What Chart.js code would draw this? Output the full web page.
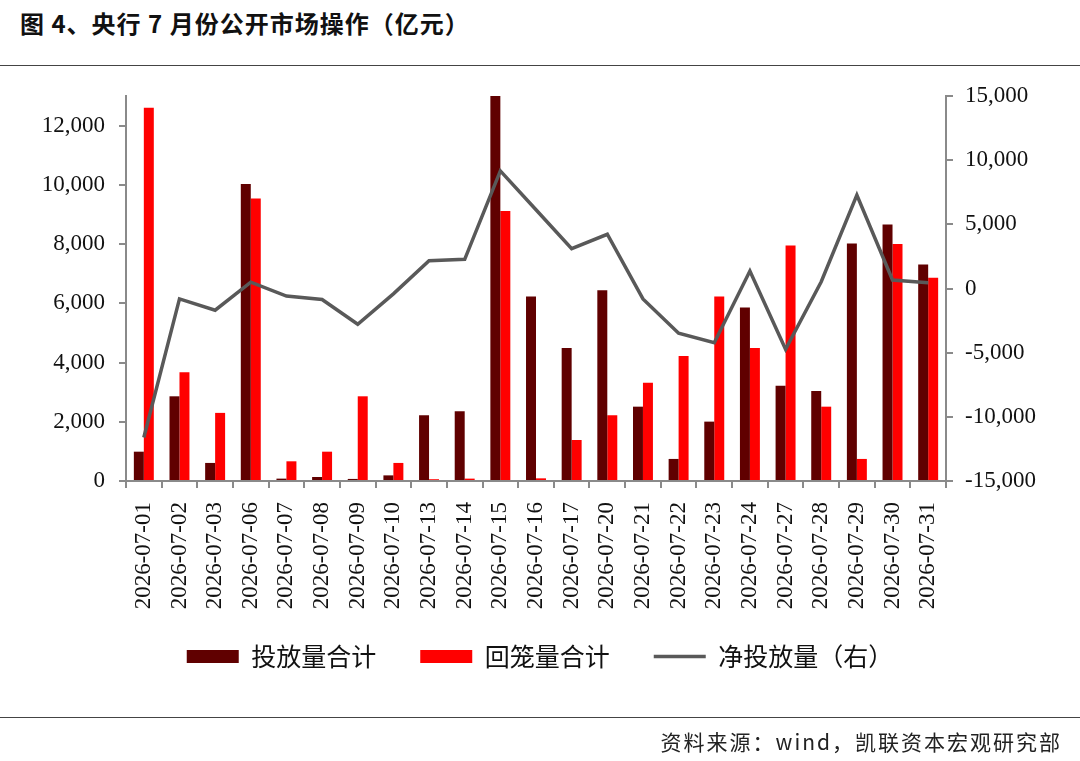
<html lang="zh">
  <head>
    <meta charset="utf-8">
    <title>央行7月份公开市场操作</title>
    <script type="text/javascript" src="https://cdn.jsdelivr.net/npm/chart.js"></script>
    <style>
      body { margin: 0; background: #fff; }
      #wrap { position: relative; width: 1080px; height: 761px; overflow: hidden; }
      #title { position: absolute; left: 20px; top: 5px; font: 600 24px "Noto Sans CJK SC"; color: #111; letter-spacing: 1px; }
      .rule { position: absolute; left: 0; width: 1080px; height: 1px; background: #444; }
      #source { position: absolute; right: 18px; top: 726px; font: 21px "Noto Sans CJK SC"; color: #222; letter-spacing: 2px; }
      #box { position: absolute; left: 0; top: 0; width: 1080px; height: 761px; }
    </style>
  </head>
  <body>
    <div id="wrap">
      <div id="title">图 4、央行 7 月份公开市场操作（亿元）</div>
      <div class="rule" style="top:65px"></div>
      <div id="box"><canvas id="myChart"></canvas></div>
      <div class="rule" style="top:717px"></div>
      <div id="source">资料来源：wind，凯联资本宏观研究部</div>
    </div>

    <script>
      const dates = ['2026-07-01', '2026-07-02', '2026-07-03', '2026-07-06', '2026-07-07', '2026-07-08',
        '2026-07-09', '2026-07-10', '2026-07-13', '2026-07-14', '2026-07-15', '2026-07-16', '2026-07-17',
        '2026-07-20', '2026-07-21', '2026-07-22', '2026-07-23', '2026-07-24', '2026-07-27', '2026-07-28',
        '2026-07-29', '2026-07-30', '2026-07-31'];
      // 投放量合计
      const injection = [990, 2860, 610, 10030, 80, 135, 70, 190, 2220, 2355, 18280, 6230, 4495,
        6445, 2510, 745, 2005, 5860, 3220, 3040, 8020, 8660, 7310];
      // 回笼量合计
      const withdrawal = [12600, 3670, 2300, 9540, 665, 990, 2860, 610, 60, 80, 9115, 90, 1385,
        2220, 3320, 4225, 6230, 4495, 7950, 2510, 745, 8000, 6860];
      // 净投放量（右）
      const netInjection = [-11610, -810, -1690, 490, -585, -855, -2790, -420, 2160, 2275, 9165, 6140, 3110,
        4225, -810, -3480, -4225, 1365, -4730, 530, 7275, 660, 450];

      // tick labels
      const leftTicks = [0, 2000, 4000, 6000, 8000, 10000, 12000];
      const rightTicks = [-15000, -10000, -5000, 0, 5000, 10000, 15000];

      const axisGray = '#8a8a8a';
      const numFont = { family: 'Liberation Serif', size: 23 };
      const fmt = (v) => v.toLocaleString('en-US');

      // legend sits a bit higher than chart.js puts it
      const legendLift = {
        id: 'legendLift',
        afterLayout(chart) {
          const lg = chart.legend;
          if (lg) { lg.top -= 17; lg.bottom -= 17; }
        },
      };

      const ctx = document.getElementById('myChart').getContext('2d');

      new Chart(ctx, {
        type: 'bar',
        plugins: [legendLift],
        data: {
          labels: dates,
          datasets: [
            {
              type: 'line',
              label: '净投放量（右）',
              data: netInjection,
              yAxisID: 'yR',
              borderColor: '#595959',
              backgroundColor: '#595959',
              borderWidth: 3.5,
              pointRadius: 0,
              pointStyle: 'line',
              tension: 0,
              order: 0,
            },
            {
              label: '投放量合计',
              data: injection,
              yAxisID: 'y',
              backgroundColor: '#600000',
              borderWidth: 0,
              pointStyle: 'rect',
              barPercentage: 1,
              categoryPercentage: 0.56,
              order: 1,
            },
            {
              label: '回笼量合计',
              data: withdrawal,
              yAxisID: 'y',
              backgroundColor: '#ff0000',
              borderWidth: 0,
              pointStyle: 'rect',
              barPercentage: 1,
              categoryPercentage: 0.56,
              order: 1,
            },
          ],
        },
        options: {
          responsive: true,
          maintainAspectRatio: false,
          animation: false,
          layout: { padding: { left: 0, right: 0, top: 96, bottom: 65 } },
          plugins: {
            tooltip: { enabled: false },
            legend: {
              position: 'bottom',
              labels: {
                usePointStyle: true,
                pointStyleWidth: 52,
                boxHeight: 13,
                padding: 44,
                color: '#111',
                font: { family: 'Noto Sans CJK SC', size: 25 },
                sort: (a, b) => [1, 2, 0].indexOf(a.datasetIndex) - [1, 2, 0].indexOf(b.datasetIndex),
              },
            },
          },
          scales: {
            x: {
              grid: { drawOnChartArea: false, color: axisGray, lineWidth: 2, tickLength: 7, offset: true },
              border: { color: axisGray, width: 2 },
              ticks: { minRotation: 90, maxRotation: 90, padding: 14, color: '#111', font: numFont, autoSkip: false },
              afterFit: (s) => { s.height = 136; },
            },
            y: {
              position: 'left',
              min: 0,
              max: 13000,
              ticks: { color: '#111', font: numFont, padding: 14, callback: fmt },
              grid: { drawOnChartArea: false, color: axisGray, lineWidth: 2, tickLength: 7 },
              border: { color: axisGray, width: 2 },
              afterBuildTicks: (s) => { s.ticks = leftTicks.map((v) => ({ value: v })); },
              afterFit: (s) => { s.width = 126; },
            },
            yR: {
              position: 'right',
              min: -15000,
              max: 15000,
              ticks: { color: '#111', font: numFont, padding: 12, callback: fmt },
              grid: { drawOnChartArea: false, color: axisGray, lineWidth: 2, tickLength: 7 },
              border: { color: axisGray, width: 2 },
              afterBuildTicks: (s) => { s.ticks = rightTicks.map((v) => ({ value: v })); },
              afterFit: (s) => { s.width = 134; },
            },
          },
        },
      });
    </script>
  </body>
</html>
